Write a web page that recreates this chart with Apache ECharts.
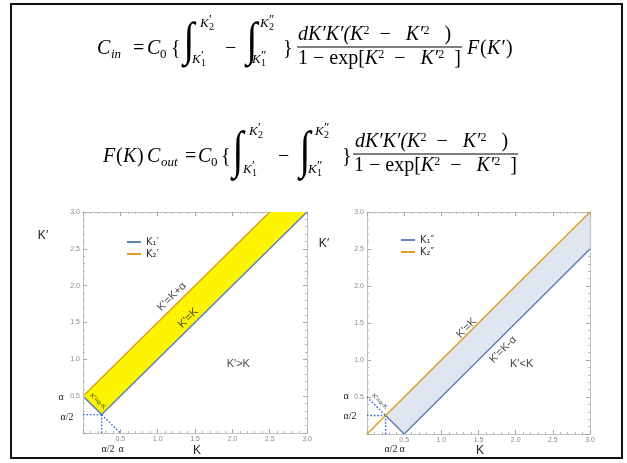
<!DOCTYPE html>
<html><head><meta charset="utf-8">
<script src="https://cdn.jsdelivr.net/npm/echarts@6/dist/echarts.min.js"></script>
<style>html,body{margin:0;padding:0;background:#fff}#c{width:627px;height:463px}</style>
</head><body><div id="c"></div>
<script>
// ---------- data ----------
const TICK_VALUES = [0.5, 1.0, 1.5, 2.0, 2.5, 3.0];
const TICK_LABELS = ['0.5', '1.0', '1.5', '2.0', '2.5', '3.0'];
// left panel: K1' (lower) and K2' (upper) limits
const K1P_LINE = [[0.02, 0.48], [0.25, 0.25], [3.0, 3.0]];
const K2P_LINE = [[0.02, 0.52], [2.5, 3.0]];
const LEFT_BAND_UPPER = [[0.02, 0.52], [2.5, 3.0], [3.0, 3.0]];
const LEFT_BAND_LOWER = [[0.02, 0.48], [0.25, 0.25], [3.0, 3.0]];
const LEFT_DOT_H = [[0, 0.25], [0.25, 0.25]];
const LEFT_DOT_V = [[0.25, 0], [0.25, 0.25]];
const LEFT_DOT_D = [[0.25, 0.25], [0.5, 0]];
// right panel: K1'' (lower) and K2'' (upper) limits
const K1PP_LINE = [[0.25, 0.25], [0.5, 0], [3.0, 2.5]];
const K2PP_LINE = [[0, 0], [3.0, 3.0]];
const RIGHT_BAND_UPPER = [[0.25, 0.25], [3.0, 3.0]];
const RIGHT_BAND_LOWER = [[0.25, 0.25], [0.5, 0], [3.0, 2.5]];
const RIGHT_DOT_H = [[0, 0.25], [0.25, 0.25]];
const RIGHT_DOT_V = [[0.25, 0], [0.25, 0.25]];
const RIGHT_DOT_D = [[0, 0.5], [0.25, 0.25]];
// in-plot annotations
const LEFT_NOTES = [
  {text: "K'=K+α", k: 1.19, kp: 1.85, rot: 45, size: 11},
  {text: "K'=K", k: 1.41, kp: 1.56, rot: 45, size: 11},
  {text: "K'=α-K", k: 0.20, kp: 0.43, rot: -45, size: 6.5},
  {text: "K'>K", k: 2.08, kp: 0.94, rot: 0, size: 11}
];
const RIGHT_NOTES = [
  {text: "K'=K", k: 1.34, kp: 1.43, rot: 45, size: 11},
  {text: "K'=K-α", k: 1.83, kp: 1.14, rot: 45, size: 11},
  {text: "K'<K", k: 2.08, kp: 0.95, rot: 0, size: 11},
  {text: "K'=α-K", k: 0.17, kp: 0.44, rot: -45, size: 6.5}
];
const LEGEND_LEFT = ['K₁′', 'K₂′'];
const LEGEND_RIGHT = ['K₁″', 'K₂″'];

// ---------- style ----------
const BLUE = '#5e81b5', ORANGE = '#e19c24', DOT = '#2f66d6';
const FRAME = '#c0c0c0';
const G = [{left: 83, top: 212, width: 224, height: 221}, {left: 367, top: 212, width: 223, height: 222}];

function fmt(v) { const i = TICK_VALUES.indexOf(Math.round(v * 100) / 100); return i < 0 ? '' : TICK_LABELS[i]; }
function axis(gi, pos, showLabel) {
  return {
    type: 'value', gridIndex: gi, position: pos, min: 0, max: 3, interval: 0.5,
    axisLine: {show: true, onZero: false, lineStyle: {color: FRAME, width: 1}},
    axisTick: {show: true, inside: true, length: 4, lineStyle: {color: '#a8a8a8'}},
    minorTick: {show: true, splitNumber: 5, length: 2, lineStyle: {color: '#b8b8b8'}},
    splitLine: {show: false},
    axisLabel: {show: showLabel, fontSize: 7, color: '#8a8a8a', margin: 3, fontFamily: 'Liberation Sans', formatter: fmt}
  };
}
function line(name, data, xi, color, opts) {
  return Object.assign({type: 'line', name: name, xAxisIndex: xi, yAxisIndex: xi, data: data, symbol: 'none',
    lineStyle: {color: color, width: 1.5}, itemStyle: {color: color}, z: 3, silent: true}, opts || {});
}
function dotted(data, xi) {
  return {type: 'line', xAxisIndex: xi, yAxisIndex: xi, data: data, symbol: 'none',
    lineStyle: {color: DOT, width: 1.4, type: [1.6, 1.8]}, z: 2, silent: true};
}
function band(upper, lower, xi, fill) {
  return {type: 'custom', xAxisIndex: xi, yAxisIndex: xi, data: [[0, 0]], z: 1, silent: true, clip: true,
    renderItem: function (p, api) {
      const pts = upper.concat(lower.slice().reverse()).map(function (q) { return api.coord(q); });
      return {type: 'polygon', shape: {points: pts}, style: {fill: fill}};
    }};
}
function notes(list, xi) {
  return {type: 'scatter', xAxisIndex: xi, yAxisIndex: xi, symbolSize: 0, z: 5, silent: true,
    data: list.map(function (n) {
      return {value: [n.k, n.kp], label: {show: true, position: 'inside', formatter: n.text, rotate: n.rot,
        fontSize: n.size, color: '#111', fontFamily: 'Liberation Sans'}};
    })};
}

// equation helpers
const SERIF = '"Liberation Serif"';
function T(str, x, base, size, it) {
  return {type: 'text', x: x, y: base - 0.32 * size, silent: true,
    style: {text: str, font: (it ? 'italic ' : '') + size + 'px ' + SERIF, fill: '#000',
      align: 'left', verticalAlign: 'middle', textAlign: 'left', textVerticalAlign: 'middle'}};
}
function INT(x, cy, h) {
  return {type: 'text', x: x, y: cy, scaleY: h / 44, silent: true,
    style: {text: '∫', font: 'italic 40px ' + SERIF, fill: '#000', align: 'center', verticalAlign: 'middle',
      textAlign: 'center', textVerticalAlign: 'middle'}};
}
function limit(x, base, primes, idx) {
  return [T('K', x, base, 13, true), T(primes, x + 9, base - 4, 13, false), T(idx, x + 9, base + 3, 10, false)];
}
const RICH = {
  i: {fontSize: 20, fontStyle: 'italic', fontFamily: 'Liberation Serif', color: '#000'},
  n: {fontSize: 20, fontFamily: 'Liberation Serif', color: '#000'},
  s: {fontSize: 12, fontFamily: 'Liberation Serif', color: '#000', verticalAlign: 'top'}
};
function R(str, x, cy) {
  return {type: 'text', x: x, y: cy, silent: true,
    style: {text: str, rich: RICH, align: 'left', verticalAlign: 'middle', textAlign: 'left', textVerticalAlign: 'middle'}};
}
const NUM = '{i|dK′K′(K}{s|2}{n|  −   }{i|K′}{s|2}{n|   )}';
const DEN = '{n|1 − exp[}{i|K}{s|2}{n|  −   }{i|K′}{s|2}{n|  ]}';

function equation1() {
  const b = 55;
  return [].concat(
    T('C', 97, b, 20, true), T('in', 111, b + 4, 13, true), T('=', 133, b, 20, false),
    T('C', 147, b, 20, true), T('0', 160, b + 4, 13, false), T('{', 171, b, 20, false),
    INT(189, 43, 52), limit(200, 28, '′', '2'), limit(192, 64, '′', '1'),
    T('−', 225, b, 20, false),
    INT(252, 43, 52), limit(260, 28, '″', '2'), limit(252, 64, '″', '1'),
    T('}', 283, b, 20, false),
    {type: 'line', shape: {x1: 297, y1: 47, x2: 462, y2: 47}, style: {stroke: '#000', lineWidth: 1}, silent: true},
    R(NUM, 298, 35), R(DEN, 298, 59),
    T('F', 467, b, 20, true), T('(', 480, b, 20, false), T('K′', 487, b, 20, true), T(')', 506, b, 20, false)
  );
}
function equation2() {
  const b = 163;
  return [].concat(
    T('F', 103, b, 20, true), T('(', 116, b, 20, false), T('K', 123, b, 20, true), T(')', 137, b, 20, false),
    T('C', 147, b, 20, true), T('out', 161, b + 4, 13, true), T('=', 185, b, 20, false),
    T('C', 198, b, 20, true), T('0', 211, b + 4, 13, false), T('{', 221, b, 20, false),
    INT(238, 153, 57), limit(249, 136, '′', '2'), limit(243, 174, '′', '1'),
    T('−', 278, b, 20, false),
    INT(305, 153, 57), limit(315, 136, '″', '2'), limit(308, 174, '″', '1'),
    T('}', 342, b, 20, false),
    {type: 'line', shape: {x1: 353, y1: 154, x2: 518, y2: 154}, style: {stroke: '#000', lineWidth: 1}, silent: true},
    R(NUM, 355, 142), R(DEN, 354, 166)
  );
}
function S(str, x, y, size, family, color) {
  return {type: 'text', x: x, y: y, silent: true,
    style: {text: str, font: size + 'px ' + family, fill: color || '#222', align: 'center', verticalAlign: 'middle',
      textAlign: 'center', textVerticalAlign: 'middle'}};
}
const outside = [
  S('α', 61, 397, 10, SERIF), S('α/2', 67, 417, 10, SERIF), S('α/2', 108, 449, 10, SERIF), S('α', 121, 449, 10, SERIF),
  S('K', 197, 451, 12, '"Liberation Sans"'), S('K′', 43, 236, 12, '"Liberation Sans"'),
  S('α', 346, 396, 10, SERIF), S('α/2', 350, 416, 10, SERIF), S('α/2', 391, 449, 10, SERIF), S('α', 402, 449, 10, SERIF),
  S('K', 480, 451, 12, '"Liberation Sans"'), S('K′', 324, 244, 12, '"Liberation Sans"')
];

const LEG = {orient: 'vertical', icon: 'rect', itemWidth: 14, itemHeight: 2, itemGap: 2,
  textStyle: {fontSize: 10, color: '#333', fontFamily: 'DejaVu Sans'}, selectedMode: false};
const option = {
  animation: false,
  backgroundColor: '#fff',
  grid: G,
  xAxis: [axis(0, 'bottom', true), axis(0, 'top', false), axis(1, 'bottom', true), axis(1, 'top', false)],
  yAxis: [axis(0, 'left', true), axis(0, 'right', false), axis(1, 'left', true), axis(1, 'right', false)],
  legend: [
    Object.assign({data: LEGEND_LEFT, left: 122, top: 232}, LEG),
    Object.assign({data: LEGEND_RIGHT, left: 396, top: 230}, LEG)
  ],
  series: [
    band(LEFT_BAND_UPPER, LEFT_BAND_LOWER, 0, '#fcf400'),
    line(LEGEND_LEFT[0], K1P_LINE, 0, BLUE),
    line(LEGEND_LEFT[1], K2P_LINE, 0, ORANGE),
    dotted(LEFT_DOT_H, 0), dotted(LEFT_DOT_V, 0), dotted(LEFT_DOT_D, 0),
    notes(LEFT_NOTES, 0),
    band(RIGHT_BAND_UPPER, RIGHT_BAND_LOWER, 2, '#dfe6f0'),
    line(LEGEND_RIGHT[0], K1PP_LINE, 2, BLUE),
    line(LEGEND_RIGHT[1], K2PP_LINE, 2, ORANGE),
    dotted(RIGHT_DOT_H, 2), dotted(RIGHT_DOT_V, 2), dotted(RIGHT_DOT_D, 2),
    notes(RIGHT_NOTES, 2)
  ],
  graphic: {elements: [].concat(
    [{type: 'rect', shape: {x: 11, y: 4, width: 611, height: 454}, style: {fill: 'none', stroke: '#111', lineWidth: 2}, silent: true}],
    equation1(), equation2(), outside
  )}
};
const chart = echarts.init(document.getElementById('c'), null, {renderer: 'canvas'});
chart.setOption(option);
</script></body></html>
